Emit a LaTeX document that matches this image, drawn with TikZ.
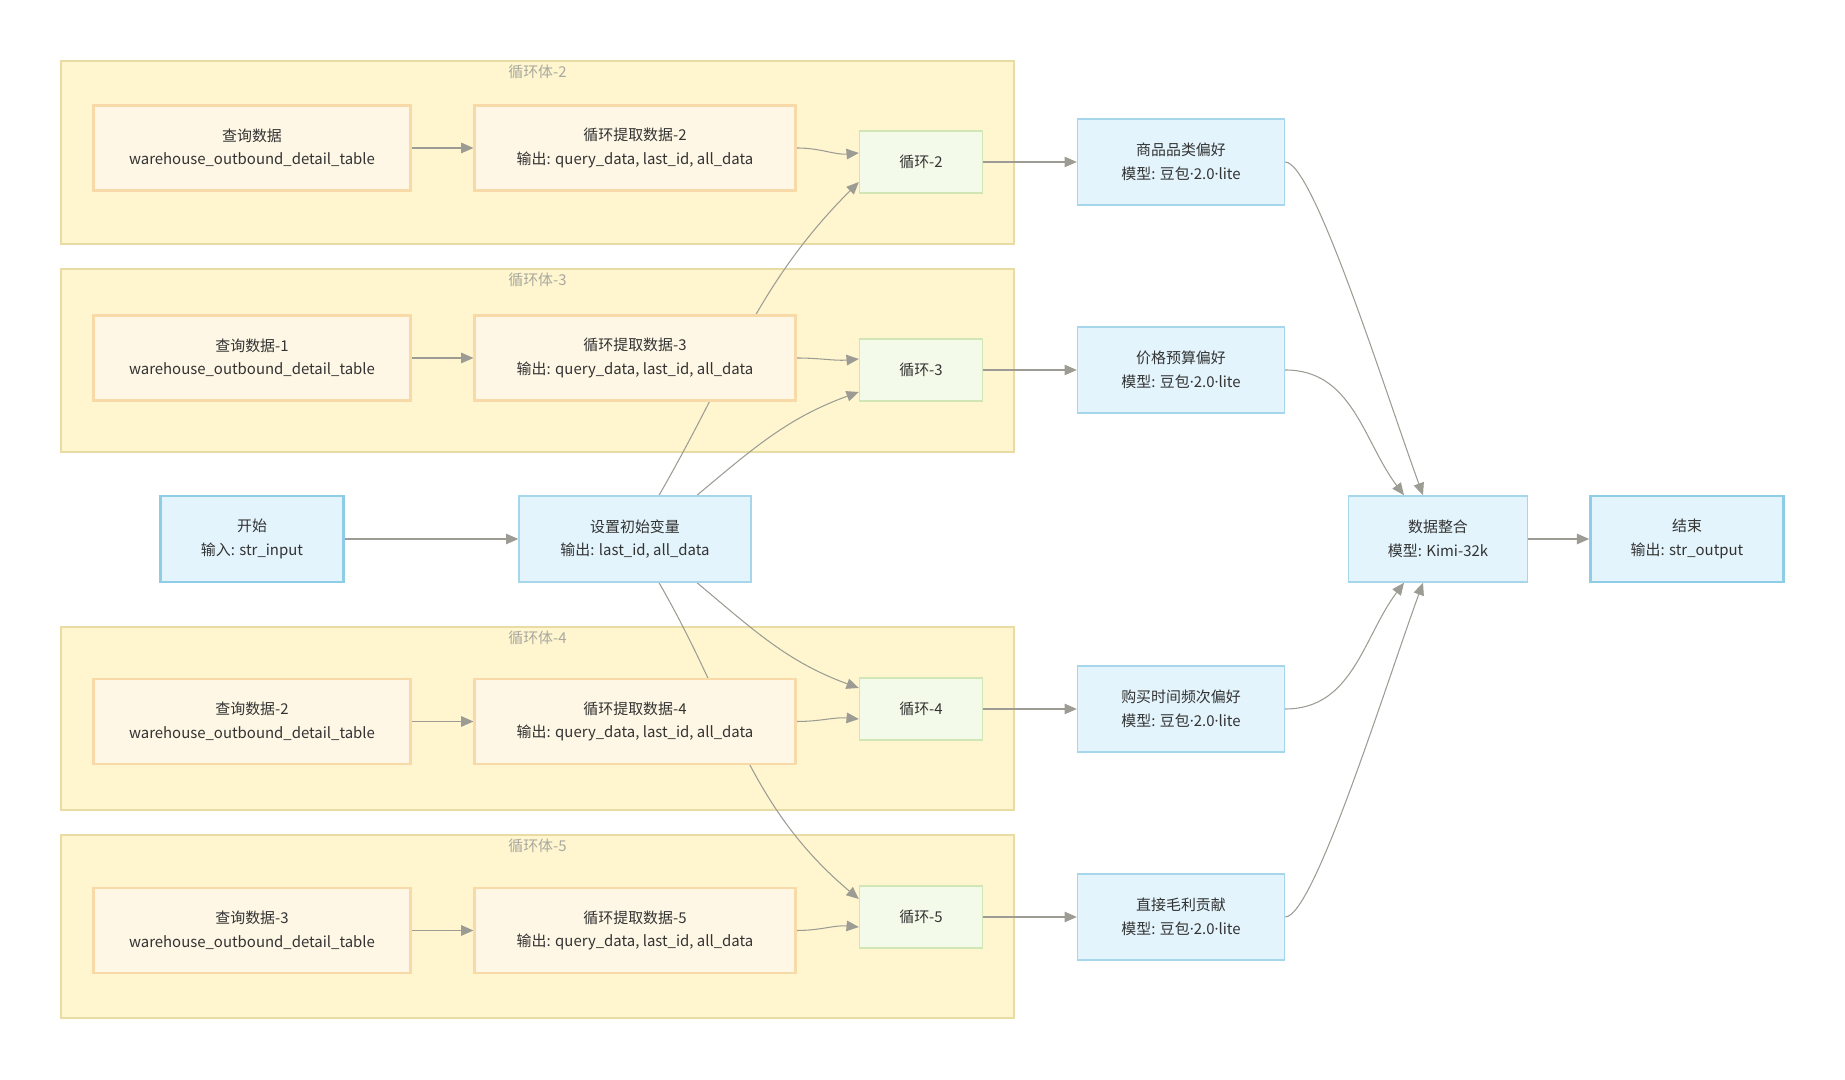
\documentclass[tikz,border=0pt]{standalone}
\usepackage{fontspec}
\setmainfont{Noto Sans CJK SC}
\newfontfamily\dotfont{Noto Sans}
\newcommand{\pdot}{{\dotfont ·}}
\usepackage{xcolor}
\usetikzlibrary{arrows.meta,positioning,calc,backgrounds}

\definecolor{clusterfill}{HTML}{FFF6CF}
\definecolor{clusterline}{HTML}{E8DCA4}
\definecolor{queryfill}{HTML}{FEF7E5}
\definecolor{queryline}{HTML}{F8D9A8}
\definecolor{loopfill}{HTML}{F3FAEA}
\definecolor{loopline}{HTML}{D0E6B4}
\definecolor{bluefill}{HTML}{E3F4FC}
\definecolor{blueline}{HTML}{A6D6EA}
\definecolor{blueedge}{HTML}{8FCDE6}
\definecolor{arrowgray}{HTML}{9C9C94}
\definecolor{textcol}{HTML}{333333}
\definecolor{labelgray}{HTML}{A8A8A0}

\pgfdeclarelayer{edges}
\pgfsetlayers{background,edges,main}

\tikzset{
  every node/.style={font=\fontsize{8.5}{13.4}\selectfont, text=textcol, inner sep=0pt},
  cluster/.style={draw=clusterline, fill=clusterfill, line width=0.7pt, minimum width=19.06cm, minimum height=3.66cm},
  clusterlabel/.style={text=labelgray},
  querybox/.style={draw=queryline, fill=queryfill, line width=1.2pt, minimum width=6.34cm, minimum height=1.7cm, align=center},
  loopbox/.style={draw=loopline, fill=loopfill, line width=0.8pt, minimum width=2.46cm, minimum height=1.24cm},
  modelbox/.style={draw=blueline, fill=bluefill, line width=0.8pt, minimum height=1.72cm, align=center},
  endbox/.style={modelbox, draw=blueedge, line width=1.5pt},
  flow/.style={-{Triangle[length=7pt,width=6pt]}, draw=arrowgray, line width=0.6pt},
}

\begin{document}
\begin{tikzpicture}

\useasboundingbox (0,0) rectangle (36.9,21.6);

% Loop bodies
\begin{pgfonlayer}{background}
\node[cluster] (body2) at (10.75,18.55) {};
\node[cluster] (body3) at (10.75,14.39) {};
\node[cluster] (body4) at (10.75,7.23) {};
\node[cluster] (body5) at (10.75,3.07) {};
\end{pgfonlayer}
\node[clusterlabel] (body2lab) at ([yshift=-0.24cm]body2.north) {循环体-2};
\node[clusterlabel] (body3lab) at ([yshift=-0.24cm]body3.north) {循环体-3};
\node[clusterlabel] (body4lab) at ([yshift=-0.24cm]body4.north) {循环体-4};
\node[clusterlabel] (body5lab) at ([yshift=-0.24cm]body5.north) {循环体-5};

% Start and init
\node[endbox, minimum width=3.66cm] (start) at (5.04,10.82) {开始\\输入: str\_input};
\node[modelbox, minimum width=4.64cm] (init) at (12.7,10.82) {设置初始变量\\输出: last\_id, all\_data};

% Loop body 2
\node[querybox] (query2) at (5.04,18.64) {查询数据\\warehouse\_outbound\_detail\_table};
\node[querybox, minimum width=6.42cm] (fetch2) at (12.7,18.64) {循环提取数据-2\\输出: query\_data, last\_id, all\_data};
\node[loopbox] (loop2) at (18.42,18.36) {循环-2};
\node[modelbox, minimum width=4.14cm] (pref2) at (23.62,18.36) {商品品类偏好\\模型: 豆包\pdot2.0\pdot lite};

% Loop body 3
\node[querybox] (query3) at (5.04,14.44) {查询数据-1\\warehouse\_outbound\_detail\_table};
\node[querybox, minimum width=6.42cm] (fetch3) at (12.7,14.44) {循环提取数据-3\\输出: query\_data, last\_id, all\_data};
\node[loopbox] (loop3) at (18.42,14.2) {循环-3};
\node[modelbox, minimum width=4.14cm] (pref3) at (23.62,14.2) {价格预算偏好\\模型: 豆包\pdot2.0\pdot lite};

% Loop body 4
\node[querybox] (query4) at (5.04,7.17) {查询数据-2\\warehouse\_outbound\_detail\_table};
\node[querybox, minimum width=6.42cm] (fetch4) at (12.7,7.17) {循环提取数据-4\\输出: query\_data, last\_id, all\_data};
\node[loopbox] (loop4) at (18.42,7.42) {循环-4};
\node[modelbox, minimum width=4.14cm] (pref4) at (23.62,7.42) {购买时间频次偏好\\模型: 豆包\pdot2.0\pdot lite};

% Loop body 5
\node[querybox] (query5) at (5.04,2.99) {查询数据-3\\warehouse\_outbound\_detail\_table};
\node[querybox, minimum width=6.42cm] (fetch5) at (12.7,2.99) {循环提取数据-5\\输出: query\_data, last\_id, all\_data};
\node[loopbox] (loop5) at (18.42,3.26) {循环-5};
\node[modelbox, minimum width=4.14cm] (pref5) at (23.62,3.26) {直接毛利贡献\\模型: 豆包\pdot2.0\pdot lite};

% Merge and end
\node[modelbox, minimum width=3.58cm] (merge) at (28.76,10.82) {数据整合\\模型: Kimi-32k};
\node[endbox, minimum width=3.86cm] (finish) at (33.74,10.82) {结束\\输出: str\_output};

% Connectors
\begin{pgfonlayer}{edges}
\draw[flow] (start) -- (init);
\draw[flow] ([xshift=0.48cm]init.north) to[out=60,in=225] ([yshift=-0.4cm]loop2.west);
\draw[flow] ([xshift=1.24cm]init.north) to[out=40,in=200] ([yshift=-0.44cm]loop3.west);
\draw[flow] ([xshift=1.24cm]init.south) to[out=-40,in=160] ([yshift=0.42cm]loop4.west);
\draw[flow] ([xshift=0.48cm]init.south) to[out=-60,in=140] ([yshift=0.36cm]loop5.west);

\draw[flow] (query2) -- (fetch2);
\draw[flow] (query3) -- (fetch3);
\draw[flow] (query4) -- (fetch4);
\draw[flow] (query5) -- (fetch5);

\draw[flow] (fetch2.east) to[out=0,in=185] ([yshift=0.18cm]loop2.west);
\draw[flow] (fetch3.east) to[out=0,in=185] ([yshift=0.22cm]loop3.west);
\draw[flow] (fetch4.east) to[out=0,in=175] ([yshift=-0.2cm]loop4.west);
\draw[flow] (fetch5.east) to[out=0,in=175] ([yshift=-0.2cm]loop5.west);

\draw[flow] (loop2) -- (pref2);
\draw[flow] (loop3) -- (pref3);
\draw[flow] (loop4) -- (pref4);
\draw[flow] (loop5) -- (pref5);

\draw[flow] (pref2.east) to[out=0,in=110,out looseness=0.2,in looseness=0.8] ([xshift=-0.3cm]merge.north);
\draw[flow] (pref3.east) to[out=0,in=127] ([xshift=-0.68cm]merge.north);
\draw[flow] (pref4.east) to[out=0,in=233] ([xshift=-0.68cm]merge.south);
\draw[flow] (pref5.east) to[out=0,in=250,out looseness=0.2,in looseness=0.8] ([xshift=-0.3cm]merge.south);

\draw[flow] (merge) -- (finish);
\end{pgfonlayer}

\end{tikzpicture}
\end{document}
